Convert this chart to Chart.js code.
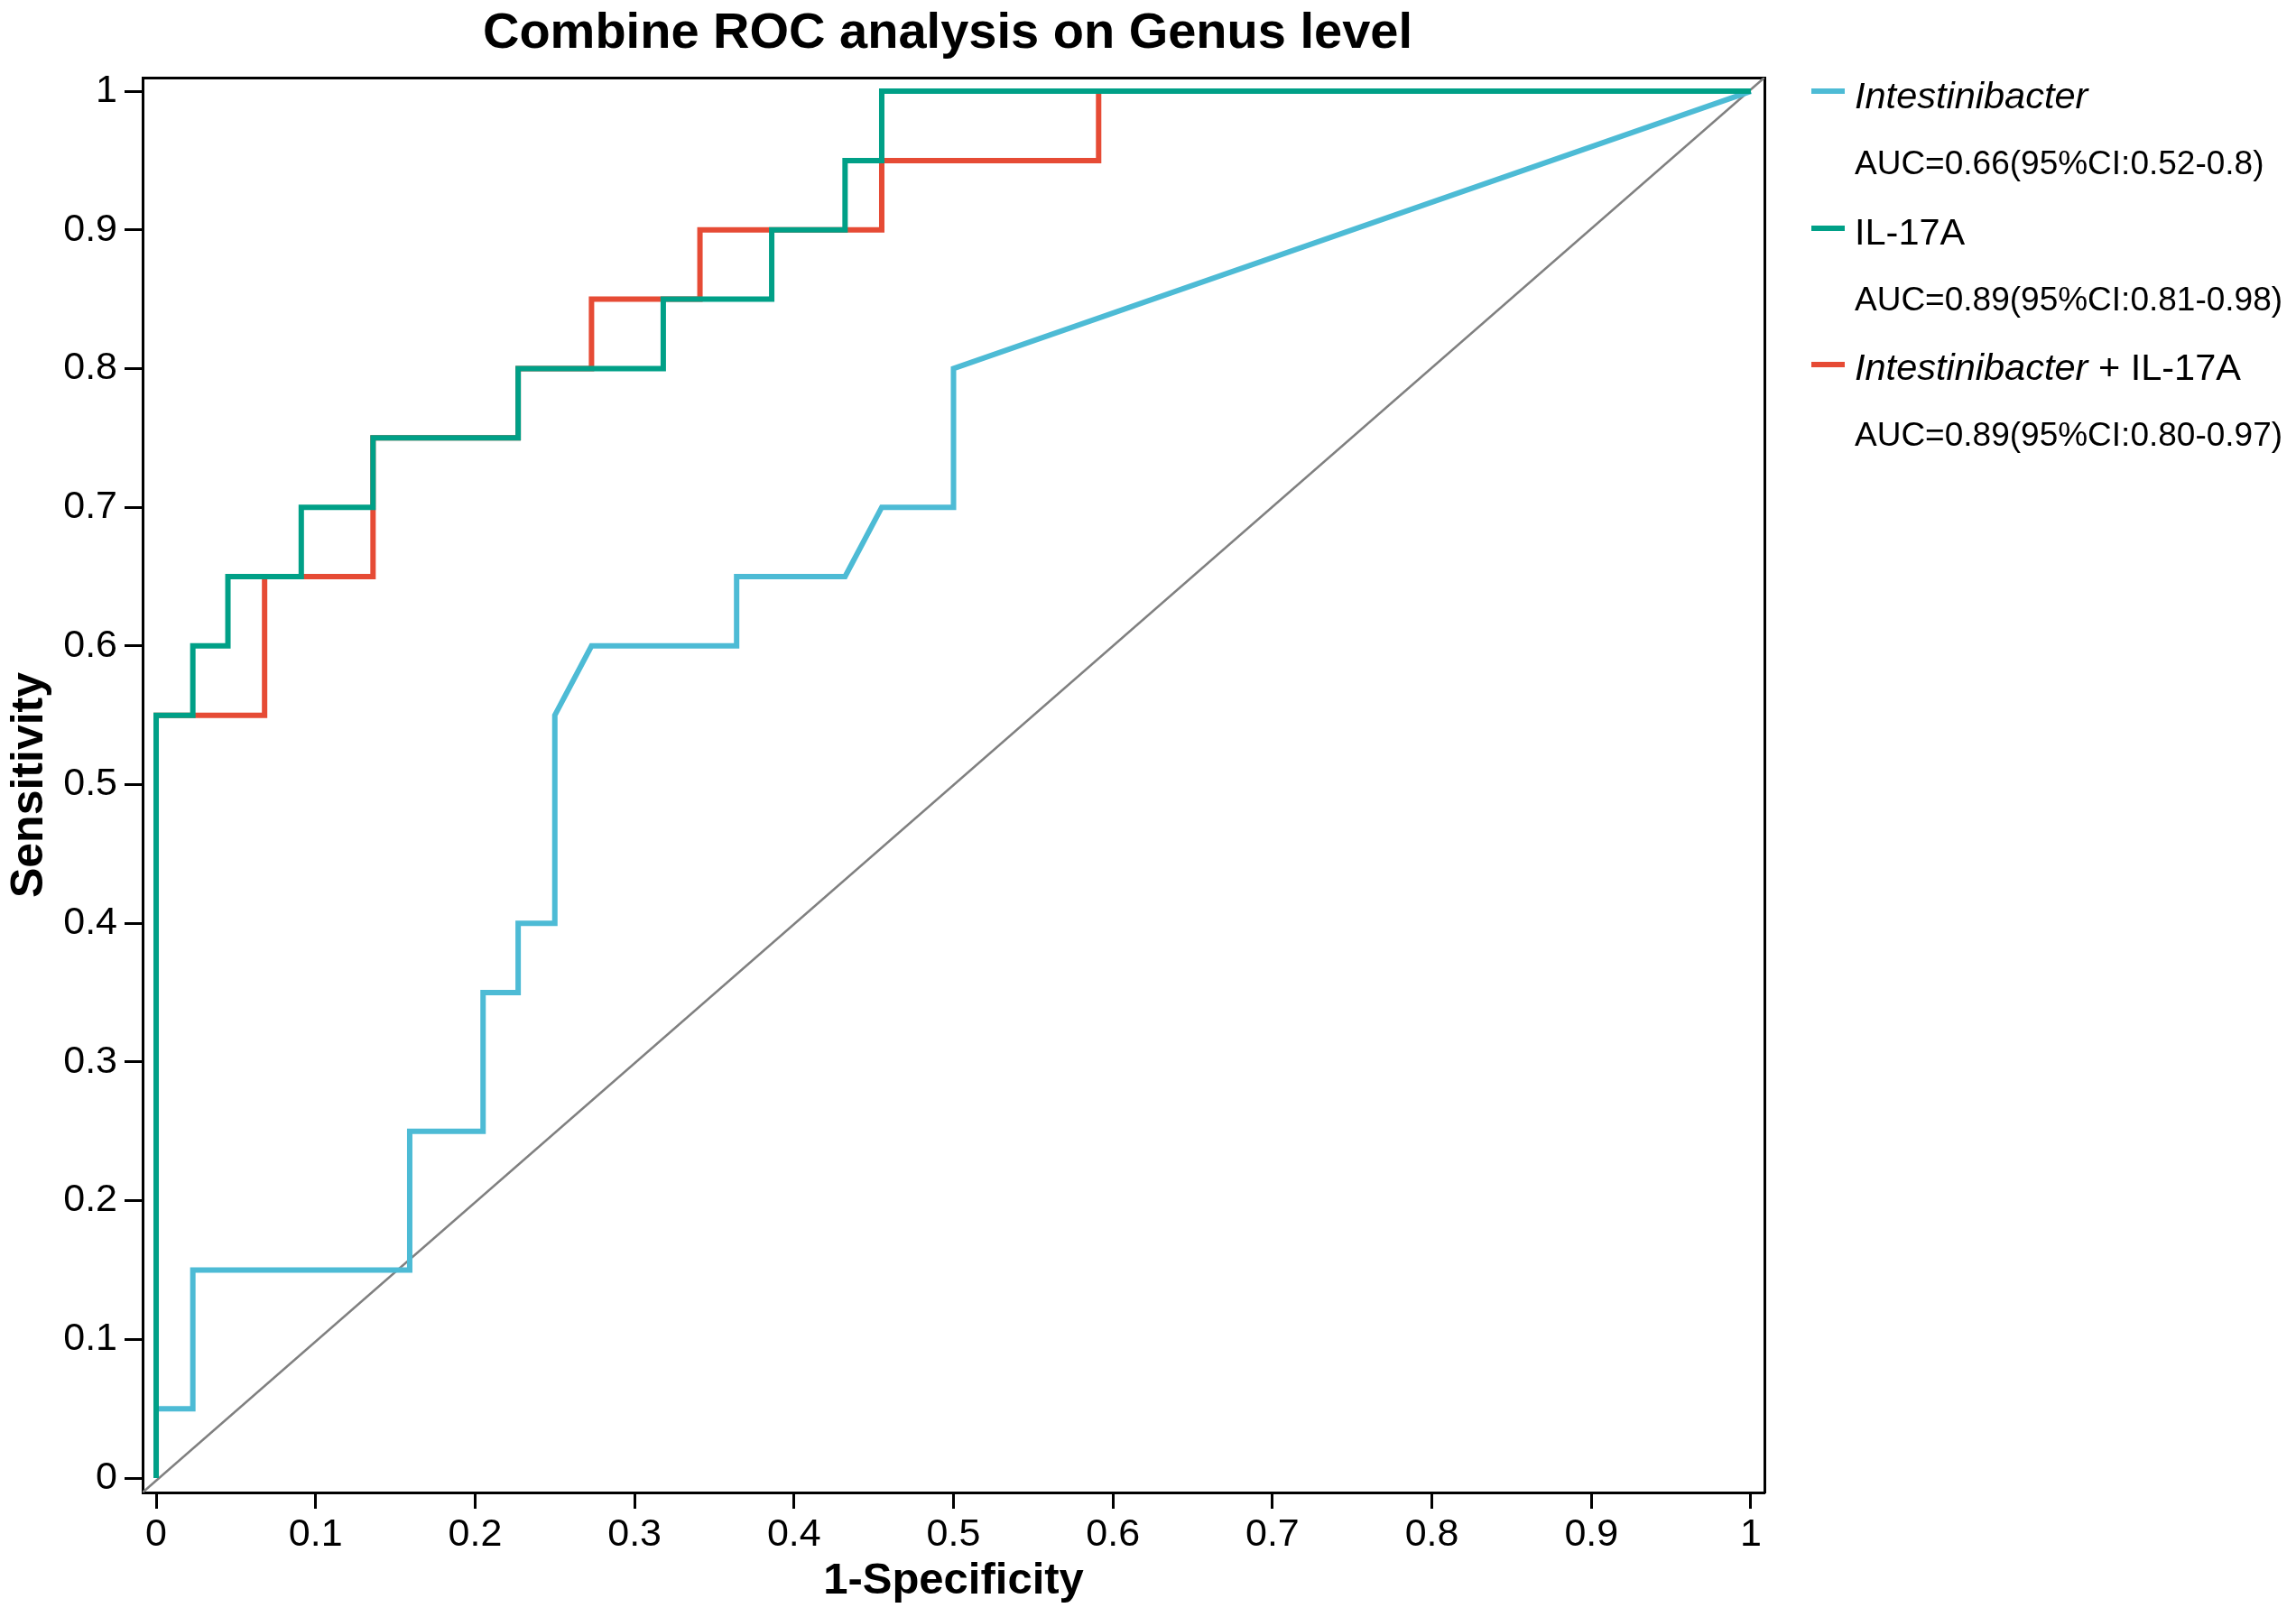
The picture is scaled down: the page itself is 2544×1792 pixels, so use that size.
<!DOCTYPE html>
<html>
<head>
<meta charset="utf-8">
<script src="https://cdn.jsdelivr.net/npm/chart.js@4.4.0/dist/chart.umd.min.js"></script>
<style>
html,body{margin:0;padding:0;background:#fff;}
#wrap{position:relative;width:2544px;height:1792px;background:#fff;overflow:hidden;}
#c{position:absolute;left:0;top:0;width:2544px;height:1792px;}
.t{position:absolute;font-family:"Liberation Sans",Arial,sans-serif;color:#000;white-space:nowrap;line-height:1;}
.sw{position:absolute;height:6px;width:37px;}
</style>
</head>
<body>
<div id="wrap">
<canvas id="c" width="2544" height="1792"></canvas>
<div class="t" id="title" style="left:1050px;top:6px;font-size:56px;font-weight:bold;transform:translateX(-50%);">Combine ROC analysis on Genus level</div>
<div id="legend"></div>
</div>
<script>
// ---- data ----
const seriesNames = ["Intestinibacter", "IL-17A", "Intestinibacter + IL-17A"];
const aucLabels = ["AUC=0.66(95%CI:0.52-0.8)", "AUC=0.89(95%CI:0.81-0.98)", "AUC=0.89(95%CI:0.80-0.97)"];
const seriesColors = ["#4DBBD5", "#00A087", "#E64B35"];

const intestFPR = [0, 0, 0.023, 0.023, 0.159, 0.159, 0.205, 0.205, 0.227, 0.227, 0.25, 0.25, 0.273, 0.364, 0.364, 0.432, 0.455, 0.5, 0.5, 1];
const intestTPR = [0, 0.05, 0.05, 0.15, 0.15, 0.25, 0.25, 0.35, 0.35, 0.40, 0.40, 0.55, 0.60, 0.60, 0.65, 0.65, 0.70, 0.70, 0.80, 1];

const il17FPR = [0, 0, 0.023, 0.023, 0.045, 0.045, 0.091, 0.091, 0.136, 0.136, 0.227, 0.227, 0.318, 0.318, 0.386, 0.386, 0.432, 0.432, 0.455, 0.455, 1];
const il17TPR = [0, 0.55, 0.55, 0.60, 0.60, 0.65, 0.65, 0.70, 0.70, 0.75, 0.75, 0.80, 0.80, 0.85, 0.85, 0.90, 0.90, 0.95, 0.95, 1, 1];

const comboFPR = [0, 0, 0.068, 0.068, 0.136, 0.136, 0.227, 0.227, 0.273, 0.273, 0.341, 0.341, 0.455, 0.455, 0.591, 0.591, 1];
const comboTPR = [0, 0.55, 0.55, 0.65, 0.65, 0.75, 0.75, 0.80, 0.80, 0.85, 0.85, 0.90, 0.90, 0.95, 0.95, 1, 1];

const xTickValues = [0, 0.1, 0.2, 0.3, 0.4, 0.5, 0.6, 0.7, 0.8, 0.9, 1];
const xTickLabels = ["0", "0.1", "0.2", "0.3", "0.4", "0.5", "0.6", "0.7", "0.8", "0.9", "1"];
const yTickValues = [0, 0.1, 0.2, 0.3, 0.4, 0.5, 0.6, 0.7, 0.8, 0.9, 1];
const yTickLabels = ["0", "0.1", "0.2", "0.3", "0.4", "0.5", "0.6", "0.7", "0.8", "0.9", "1"];

const X_MIN = -0.0085, X_MAX = 1.0085;
const Y_MIN = -0.0104, Y_MAX = 1.0098;

// ---- build ----
const pts = (xs, ys) => xs.map((x, i) => ({x: x, y: ys[i]}));
const FONT = '"Liberation Sans", Arial, sans-serif';

const lineDs = (label, xs, ys, color, order) => ({
  label: label, data: pts(xs, ys), borderColor: color, backgroundColor: color,
  borderWidth: 6, pointRadius: 0, tension: 0, fill: false,
  borderJoinStyle: 'miter', borderCapStyle: 'butt', order: order
});

const tickSetter = (vals) => (scale) => { scale.ticks = vals.map(v => ({value: v})); };

new Chart(document.getElementById('c'), {
  type: 'line',
  data: {
    datasets: [
      lineDs(seriesNames[1], il17FPR, il17TPR, seriesColors[1], 0),
      lineDs(seriesNames[2], comboFPR, comboTPR, seriesColors[2], 1),
      lineDs(seriesNames[0], intestFPR, intestTPR, seriesColors[0], 2),
      {label: 'ref', data: [{x: X_MIN, y: Y_MIN}, {x: X_MAX, y: Y_MAX}], borderColor: '#808080',
       borderWidth: 2.5, pointRadius: 0, tension: 0, fill: false, order: 3}
    ]
  },
  options: {
    responsive: false, devicePixelRatio: 1, animation: false,
    layout: {padding: {top: 86, right: 589, left: 0, bottom: 0}},
    plugins: {legend: {display: false}, tooltip: {enabled: false}, title: {display: false}},
    scales: {
      x: {
        type: 'linear', position: 'bottom', min: X_MIN, max: X_MAX,
        afterBuildTicks: tickSetter(xTickValues),
        afterFit: (s) => { s.height = 138; },
        ticks: {autoSkip: false, maxRotation: 0, padding: 3, color: '#000',
                font: {family: FONT, size: 43},
                callback: (v) => { const i = xTickValues.indexOf(v); return i >= 0 ? xTickLabels[i] : ''; }},
        grid: {display: true, drawOnChartArea: false, drawTicks: true, tickLength: 18, tickWidth: 3, tickColor: '#000'},
        border: {display: true, color: '#000', width: 3},
        title: {display: true, text: '1-Specificity', color: '#000', padding: {top: 0, bottom: 10},
                font: {family: FONT, size: 49, weight: 'bold'}}
      },
      y: {
        type: 'linear', position: 'left', min: Y_MIN, max: Y_MAX,
        afterBuildTicks: tickSetter(yTickValues),
        afterFit: (s) => { s.width = 158; },
        ticks: {autoSkip: false, padding: 8, color: '#000',
                font: {family: FONT, size: 43},
                callback: (v) => { const i = yTickValues.indexOf(v); return i >= 0 ? yTickLabels[i] : ''; }},
        grid: {display: true, drawOnChartArea: false, drawTicks: true, tickLength: 20, tickWidth: 3, tickColor: '#000'},
        border: {display: true, color: '#000', width: 3},
        title: {display: true, text: 'Sensitivity', color: '#000', padding: {top: 3, bottom: 0},
                font: {family: FONT, size: 50, weight: 'bold'}}
      },
      xTop: {
        type: 'linear', position: 'top', min: X_MIN, max: X_MAX,
        afterFit: (s) => { s.height = 0; },
        ticks: {display: false}, grid: {display: false},
        border: {display: true, color: '#000', width: 3}
      },
      yRight: {
        type: 'linear', position: 'right', min: Y_MIN, max: Y_MAX,
        afterFit: (s) => { s.width = 0; },
        ticks: {display: false}, grid: {display: false},
        border: {display: true, color: '#000', width: 3}
      }
    }
  }
});

// ---- legend (HTML text) ----
const legend = document.getElementById('legend');
const rowLine = [101, 253, 404];
const rowLabelCenter = [106, 257, 407];
const rowAucCenter = [180, 331, 481];
const LBF = 41.5, AF = 37;
const labelHtml = [
  '<i>' + seriesNames[0] + '</i>',
  seriesNames[1],
  '<i>Intestinibacter</i> + IL-17A'
];
for (let i = 0; i < 3; i++) {
  const sw = document.createElement('div');
  sw.className = 'sw';
  sw.style.left = '2007px';
  sw.style.top = (rowLine[i] - 3) + 'px';
  sw.style.background = seriesColors[i];
  legend.appendChild(sw);
  const lb = document.createElement('div');
  lb.className = 't';
  lb.style.left = '2055px';
  lb.style.top = (rowLabelCenter[i] - LBF / 2) + 'px';
  lb.style.fontSize = LBF + 'px';
  lb.innerHTML = labelHtml[i];
  legend.appendChild(lb);
  const au = document.createElement('div');
  au.className = 't';
  au.style.left = '2055px';
  au.style.top = (rowAucCenter[i] - AF / 2) + 'px';
  au.style.fontSize = AF + 'px';
  au.textContent = aucLabels[i];
  legend.appendChild(au);
}
</script>
</body>
</html>
